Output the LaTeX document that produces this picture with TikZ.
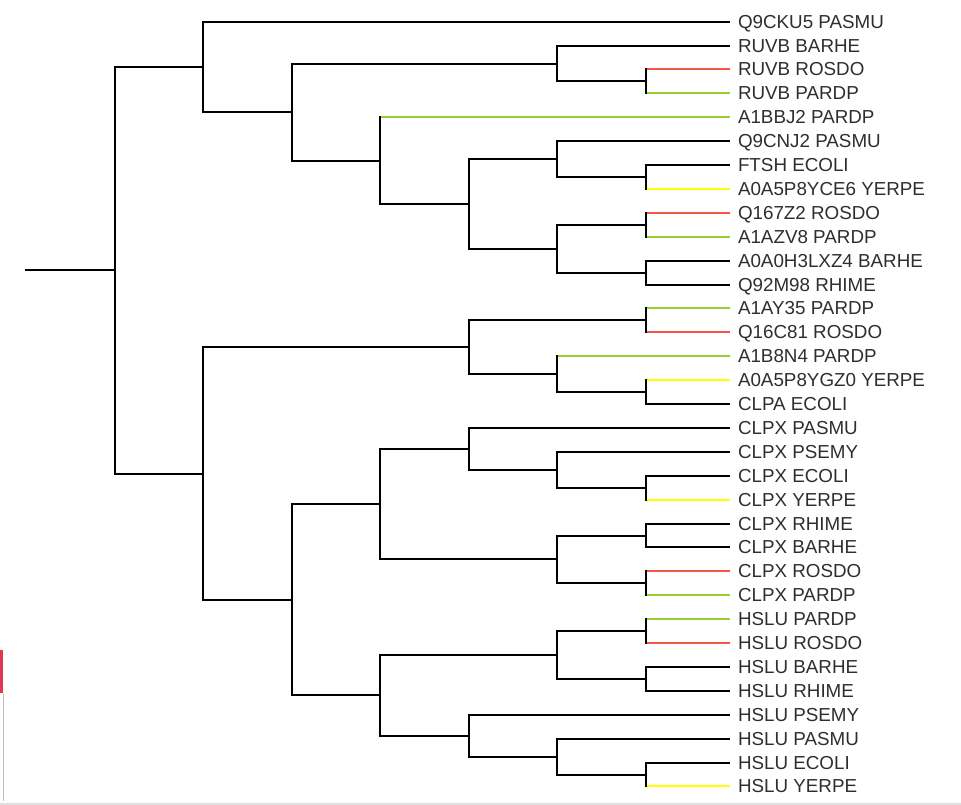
\documentclass[tikz,border=0pt]{standalone}
\usepackage{fontspec}
\setmainfont{Liberation Sans}
\usetikzlibrary{positioning}

\definecolor{rosdo}{HTML}{F4574A}
\definecolor{pardp}{HTML}{9ACD32}
\definecolor{yerpe}{HTML}{FFFF00}
\definecolor{labelgray}{HTML}{2E2E2E}
\definecolor{tabred}{HTML}{E0384F}

\tikzset{
  branch/.style={line width=1.5pt, draw=black, line join=miter},
  leaf/.style={anchor=west, inner xsep=6pt, inner ysep=0pt, outer sep=0pt,
    text height=10pt, text depth=0pt, text=labelgray, font=\fontsize{14.1}{16}\selectfont}
}

\begin{document}
\begin{tikzpicture}[x=0.75pt, y=-0.75pt]
\useasboundingbox (0,0) rectangle (961,805);

% leaves
\foreach \name [count=\i from 0] in {Q9CKU5 PASMU, RUVB BARHE, RUVB ROSDO, RUVB PARDP,
  A1BBJ2 PARDP, Q9CNJ2 PASMU, FTSH ECOLI, A0A5P8YCE6 YERPE, Q167Z2 ROSDO, A1AZV8 PARDP,
  A0A0H3LXZ4 BARHE, Q92M98 RHIME, A1AY35 PARDP, Q16C81 ROSDO, A1B8N4 PARDP,
  A0A5P8YGZ0 YERPE, CLPA ECOLI, CLPX PASMU, CLPX PSEMY, CLPX ECOLI, CLPX YERPE,
  CLPX RHIME, CLPX BARHE, CLPX ROSDO, CLPX PARDP, HSLU PARDP, HSLU ROSDO, HSLU BARHE,
  HSLU RHIME, HSLU PSEMY, HSLU PASMU, HSLU ECOLI, HSLU YERPE}
  \node[leaf] (l\i) at (730, {round(21.7+23.9*\i)}) {\name};

% inner nodes
\coordinate (root) at (25,270);
\coordinate (a) at (115,270);
\coordinate (b) at (203,67);
\coordinate (d) at (292,112);
\coordinate (e) at (557,64);
\coordinate (g) at (646,81);
\coordinate (f) at (380,161);
\coordinate (h) at (469,204);
\coordinate (i) at (557,159);
\coordinate (k) at (646,177);
\coordinate (j) at (557,249);
\coordinate (m) at (646,225);
\coordinate (n) at (646,273);
\coordinate (c) at (203,474);
\coordinate (p) at (469,347);
\coordinate (s) at (646,320);
\coordinate (t) at (557,374);
\coordinate (u) at (646,392);
\coordinate (q) at (292,600);
\coordinate (v) at (380,504);
\coordinate (x) at (469,449);
\coordinate (z) at (557,470);
\coordinate (aa) at (646,488);
\coordinate (y) at (557,559);
\coordinate (ab) at (646,536);
\coordinate (ac) at (646,583);
\coordinate (w) at (380,695);
\coordinate (ad) at (557,655);
\coordinate (af) at (646,631);
\coordinate (ag) at (646,679);
\coordinate (ae) at (469,736);
\coordinate (ah) at (557,757);
\coordinate (ai) at (646,775);

% black branches
\draw[branch] (root) -- (a);
\foreach \from/\to in {a/b, a/c, b/l0, b/d, d/e, d/f, e/l1, e/g, f/h, h/i, h/j,
  i/l5, i/k, k/l6, j/m, j/n, n/l10, n/l11, c/p, c/q, p/s, p/t, t/u, u/l16,
  q/v, q/w, v/x, v/y, x/l17, x/z, z/l18, z/aa, aa/l19, y/ab, y/ac, ab/l21, ab/l22,
  w/ad, w/ae, ad/af, ad/ag, ag/l27, ag/l28, ae/l29, ae/ah, ah/l30, ah/ai, ai/l31}
  \draw[branch] (\from) |- (\to);

% coloured branches
\foreach \from/\to/\col in {g/l2/rosdo, g/l3/pardp, f/l4/pardp, k/l7/yerpe,
  m/l8/rosdo, m/l9/pardp, s/l12/pardp, s/l13/rosdo, t/l14/pardp, u/l15/yerpe,
  aa/l20/yerpe, ac/l23/rosdo, ac/l24/pardp, af/l25/pardp, af/l26/rosdo, ai/l32/yerpe}
{
  \draw[branch, draw=\col] (\from |- \to) -- (\to);
  \draw[branch, line cap=rect] (\from) -- (\from |- \to);
}

% window edge
\fill[tabred] (0,650) rectangle (3,693);
\draw[black!25, line width=0.75pt] (3,693) -- (3,801);
\draw[black!12, line width=1.5pt] (0,804) -- (961,804);
\end{tikzpicture}
\end{document}
